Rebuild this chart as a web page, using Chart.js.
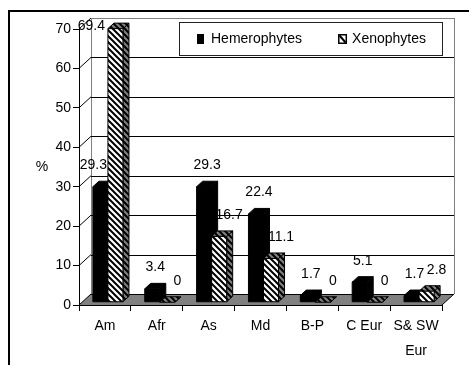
<!DOCTYPE html>
<html>
<head>
<meta charset="utf-8">
<style>
  html, body { margin: 0; padding: 0; background: #fff; }
  canvas { display: block; }
</style>
<script src="https://cdn.jsdelivr.net/npm/chart.js@4/dist/chart.umd.min.js"></script>
</head>
<body>
<canvas id="chart" width="469" height="365"></canvas>
<script>
// Regions of origin and share (%) of each group
const categories = ['Am', 'Afr', 'As', 'Md', 'B-P', 'C Eur', ['S& SW', 'Eur']];
const hemerophytes = [29.3, 3.4, 29.3, 22.4, 1.7, 5.1, 1.7];
const xenophytes = [69.4, 0, 16.7, 11.1, 0, 0, 2.8];
const seriesNames = ['Hemerophytes', 'Xenophytes'];
const yTicks = [0, 10, 20, 30, 40, 50, 60, 70];
const axisTitle = '%';

// Perspective of the box: offset of the back wall from the front plane
const WALL = { dx: 12, dy: -11 };
// Bars sit in the middle of the depth
const BAR_FRONT = 0.25;
const BAR_BACK = 0.75;

const FONT = '14px "Liberation Sans", Arial, sans-serif';
Chart.defaults.font.family = '"Liberation Sans", Arial, sans-serif';
Chart.defaults.font.size = 14;
Chart.defaults.color = '#000';

const canvas = document.getElementById('chart');
const ctx = canvas.getContext('2d');

function hatchPattern(bg) {
  const t = document.createElement('canvas');
  t.width = t.height = 6;
  const g = t.getContext('2d');
  g.fillStyle = bg;
  g.fillRect(0, 0, 6, 6);
  g.strokeStyle = '#000';
  g.lineWidth = 2;
  g.beginPath();
  g.moveTo(-1, -1); g.lineTo(7, 7);
  g.moveTo(-1, 5); g.lineTo(1, 7);
  g.moveTo(5, -1); g.lineTo(7, 1);
  g.stroke();
  return ctx.createPattern(t, 'repeat');
}

const faces = [
  { front: '#000', side: '#000', top: '#000' },
  { front: hatchPattern('#fff'), side: hatchPattern('#808080'), top: hatchPattern('#808080') }
];

// Walls, floor and outer frame behind everything else
const box3d = {
  id: 'box3d',
  beforeDraw(chart) {
    const { ctx, chartArea: a, scales: { y } } = chart;
    const { dx, dy } = WALL;
    ctx.save();
    ctx.fillStyle = '#000';
    ctx.fillRect(8, 10, chart.width - 8, 2);
    ctx.fillRect(8, 10, 2, chart.height - 10);

    // floor
    ctx.fillStyle = '#808080';
    ctx.beginPath();
    ctx.moveTo(a.left, a.bottom);
    ctx.lineTo(a.right, a.bottom);
    ctx.lineTo(a.right + dx, a.bottom + dy);
    ctx.lineTo(a.left + dx, a.bottom + dy);
    ctx.closePath();
    ctx.fill();

    ctx.lineWidth = 1;
    // wall side edges
    ctx.strokeStyle = '#808080';
    ctx.beginPath();
    ctx.moveTo(Math.round(a.left + dx) + 0.5, a.top + dy);
    ctx.lineTo(Math.round(a.left + dx) + 0.5, a.bottom + dy);
    ctx.moveTo(Math.round(a.right + dx) + 0.5, a.top + dy);
    ctx.lineTo(Math.round(a.right + dx) + 0.5, a.bottom + dy);
    ctx.stroke();

    // back-wall gridlines and their links to the front axis
    y.ticks.forEach((t, i) => {
      const py = y.getPixelForValue(t.value);
      const wy = Math.round(py + dy) + 0.5;
      ctx.strokeStyle = (i === y.ticks.length - 1) ? '#808080' : '#000';
      ctx.beginPath();
      ctx.moveTo(a.left + dx, wy);
      ctx.lineTo(a.right + dx, wy);
      ctx.stroke();
      ctx.strokeStyle = '#000';
      ctx.beginPath();
      ctx.moveTo(a.left, py);
      ctx.lineTo(a.left + dx, py + dy);
      ctx.stroke();
    });

    // right floor edge
    ctx.strokeStyle = '#000';
    ctx.beginPath();
    ctx.moveTo(a.right, a.bottom);
    ctx.lineTo(a.right + dx, a.bottom + dy);
    ctx.stroke();

    // axis title
    ctx.font = FONT;
    ctx.fillStyle = '#000';
    ctx.textAlign = 'center';
    ctx.textBaseline = 'middle';
    ctx.fillText(axisTitle, a.left - 37, (a.top + a.bottom) / 2);
    ctx.restore();
  },
  // bars are drawn as 3D boxes below
  beforeDatasetDraw() { return false; },
  afterDatasetsDraw(chart) {
    const { ctx, chartArea: a } = chart;
    const { dx, dy } = WALL;
    const fx = dx * BAR_FRONT, fy = dy * BAR_FRONT;
    const bx = dx * (BAR_BACK - BAR_FRONT), by = dy * (BAR_BACK - BAR_FRONT);
    const metas = chart.data.datasets.map((d, i) => chart.getDatasetMeta(i));
    ctx.save();
    ctx.lineWidth = 1;
    ctx.strokeStyle = '#000';
    ctx.lineJoin = 'miter';
    categories.forEach((c, i) => {
      metas.forEach((meta, d) => {
        const el = meta.data[i];
        const f = faces[d];
        const L = el.x - el.width / 2 + fx, R = el.x + el.width / 2 + fx;
        const T = el.y + fy, B = el.base + fy;
        // side
        ctx.beginPath();
        ctx.moveTo(R, T); ctx.lineTo(R + bx, T + by); ctx.lineTo(R + bx, B + by); ctx.lineTo(R, B);
        ctx.closePath();
        ctx.fillStyle = f.side; ctx.fill(); ctx.stroke();
        // top
        ctx.beginPath();
        ctx.moveTo(L, T); ctx.lineTo(L + bx, T + by); ctx.lineTo(R + bx, T + by); ctx.lineTo(R, T);
        ctx.closePath();
        ctx.fillStyle = f.top; ctx.fill(); ctx.stroke();
        // front
        if (B - T > 0.5) {
          ctx.beginPath();
          ctx.rect(L, T, R - L, B - T);
          ctx.fillStyle = f.front; ctx.fill(); ctx.stroke();
        }
      });
    });

    // value labels
    const labelShift = [3, 10];
    ctx.font = FONT;
    ctx.fillStyle = '#000';
    ctx.textBaseline = 'middle';
    metas.forEach((meta, d) => {
      const values = chart.data.datasets[d].data;
      meta.data.forEach((el, i) => {
        const txt = String(values[i]);
        const tw = ctx.measureText(txt).width;
        const backTop = el.y + dy * BAR_BACK;
        let x = el.x + fx + labelShift[d];
        let yy = backTop - 16;
        if (yy - 7 < a.top + dy) {
          // no room above: put it beside the bar
          ctx.textAlign = 'right';
          x = el.x - el.width / 2 + fx - 3;
          yy = el.y + fy - 2;
        } else {
          ctx.textAlign = 'center';
          // keep clear of a taller bar standing to the right
          const next = metas[d + 1] && metas[d + 1].data[i];
          if (next && next.y + dy * BAR_BACK < yy) {
            const limit = next.x - next.width / 2 + fx - 1;
            if (x + tw / 2 > limit) x = limit - tw / 2;
          }
        }
        ctx.fillText(txt, x, yy);
      });
    });
    ctx.restore();
  },
  afterDraw(chart) {
    // legend box inside the plot
    const { ctx, chartArea: a } = chart;
    ctx.save();
    ctx.font = FONT;
    const names = chart.data.datasets.map(d => d.label);
    const w0 = ctx.measureText(names[0]).width;
    const w1 = ctx.measureText(names[1]).width;
    const width = 18 + 7 + 7 + w0 + 38 + 9 + 5 + w1 + 15;
    const right = a.right + 1;
    const left = Math.round(right - width);
    const top = a.top - 7, h = 34;
    ctx.fillStyle = '#fff';
    ctx.fillRect(left, top, right - left, h);
    ctx.strokeStyle = '#222';
    ctx.lineWidth = 1;
    ctx.strokeRect(left + 0.5, top + 0.5, right - left - 1, h - 1);
    const cy = top + h / 2;
    let x = left + 18;
    ctx.fillStyle = '#000';
    ctx.fillRect(x, cy - 5, 7, 10);
    x += 14;
    ctx.textAlign = 'left';
    ctx.textBaseline = 'middle';
    ctx.fillText(names[0], x, cy);
    x += w0 + 36;
    // hatched key
    ctx.fillStyle = '#fff';
    ctx.fillRect(x, cy - 5, 9, 10);
    ctx.strokeStyle = '#000';
    ctx.lineWidth = 1.5;
    ctx.strokeRect(x + 0.75, cy - 4.25, 7.5, 8.5);
    ctx.lineWidth = 2;
    ctx.beginPath();
    ctx.moveTo(x + 1.5, cy - 3.5);
    ctx.lineTo(x + 7.5, cy + 3.5);
    ctx.stroke();
    x += 14;
    ctx.fillStyle = '#000';
    ctx.fillText(names[1], x, cy);
    ctx.restore();
  }
};

new Chart(canvas, {
  type: 'bar',
  data: {
    labels: categories,
    datasets: [
      { label: seriesNames[0], data: hemerophytes, backgroundColor: '#000' },
      { label: seriesNames[1], data: xenophytes, backgroundColor: '#fff' }
    ]
  },
  options: {
    responsive: false,
    devicePixelRatio: 1,
    animation: false,
    events: [],
    layout: { padding: { left: 0, top: 29, right: 27, bottom: 0 } },
    datasets: { bar: { categoryPercentage: 0.58, barPercentage: 1 } },
    plugins: { legend: { display: false }, tooltip: { enabled: false } },
    scales: {
      x: {
        offset: true,
        grid: { offset: true, drawOnChartArea: false, drawTicks: true, tickLength: 6, color: '#000' },
        border: { display: true, color: '#000', width: 1 },
        ticks: { padding: 3, maxRotation: 0, autoSkip: false, font: { size: 14, lineHeight: 1.75 } },
        afterFit(s) { s.height = 60; }
      },
      y: {
        min: 0,
        max: 70,
        afterBuildTicks(s) { s.ticks = yTicks.map(v => ({ value: v })); },
        grid: { drawOnChartArea: false, drawTicks: true, tickLength: 6, color: '#000' },
        border: { display: true, color: '#000', width: 1 },
        ticks: { padding: 2, font: { size: 14 } },
        afterFit(s) { s.width = 79; }
      }
    }
  },
  plugins: [box3d]
});
</script>
</body>
</html>
